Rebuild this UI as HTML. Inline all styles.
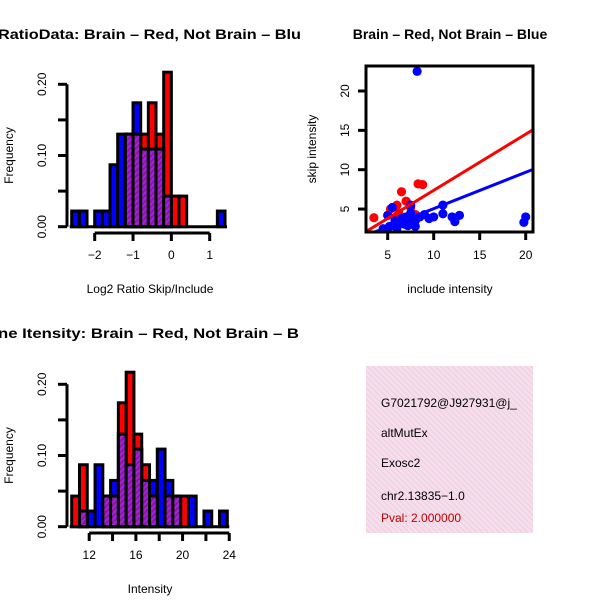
<!DOCTYPE html>
<html><head><meta charset="utf-8"><style>
html,body{margin:0;padding:0;background:#fff;}
svg{display:block;font-family:"Liberation Sans",sans-serif;}
</style></head><body>
<svg id="fig" width="600" height="600" viewBox="0 0 600 600">
<defs>
<pattern id="hatch" width="4" height="4" patternUnits="userSpaceOnUse" patternTransform="rotate(45)">
<rect width="4" height="4" fill="#a020f0"/><rect width="2" height="4" fill="#8b1a8b"/>
</pattern>
<pattern id="pinkhatch" width="4" height="4" patternUnits="userSpaceOnUse" patternTransform="rotate(-45)">
<rect width="4" height="4" fill="#fadcf0"/><rect width="1.2" height="4" fill="#e6d6d8"/>
</pattern>
<clipPath id="clipL"><rect x="0" y="0" width="300" height="600"/></clipPath>
<clipPath id="clipBox"><rect x="366" y="366" width="167" height="167"/></clipPath>
</defs>
<g id="tl"></g>
<g id="bl"></g>
<g id="tr"></g>
<g id="br">
<rect x="366" y="366" width="167" height="167" fill="url(#pinkhatch)"/>
<g clip-path="url(#clipBox)" font-size="12">
<text x="381" y="407">G7021792@J927931@j_</text>
<text x="381" y="437">altMutEx</text>
<text x="381" y="467">Exosc2</text>
<text x="381" y="500">chr2.13835−1.0</text>
<text x="381" y="522" fill="#c00000">Pval: 2.000000</text>
</g>
</g>
</svg>
<script>
const NS="http://www.w3.org/2000/svg";
// ---- data: ratio histogram ----
const ratioBinStart=-2.6, ratioBinWidth=0.2;
const ratioRed=[0,0,0,0,0,0,0,0.130,0.130,0.130,0.174,0.130,0.217,0.043,0.043,0,0,0,0,0];
const ratioBlue=[0.022,0.022,0,0.022,0.022,0.087,0.130,0.130,0.174,0.109,0.109,0.109,0.043,0,0,0,0,0,0,0.022];
const ratioXTicks=[-2,-1,0,1];
const freqTicks=[0,0.1,0.2];
const freqTickLabels=["0.00","0.10","0.20"];
// ---- data: intensity histogram ----
const intBinStart=10.5, intBinWidth=0.6667;
const intRed=[0.043,0.087,0,0,0.043,0.043,0.174,0.217,0.130,0.087,0.043,0,0.043,0.043,0.043,0,0,0,0,0];
const intBlue=[0,0.022,0.022,0.087,0.043,0.065,0.130,0.087,0.109,0.065,0.065,0.109,0.065,0.043,0,0.043,0,0.022,0,0.022];
const intXTicks=[12,14,16,18,20,22,24];
const intXLabels=["12","","16","","20","","24"];
// ---- data: scatter ----
const redX=[3.5,5.3,6.0,6.5,7.0,8.3,8.8,7.5,8.0,6.2,5.0,5.8];
const redY=[3.9,5.0,5.5,7.2,6.0,8.2,8.1,5.2,4.3,4.5,4.2,3.6];
const blueX=[8.2,5.0,5.5,7.5,6.5,7.0,7.5,8.0,6.0,5.2,6.0,8.5,9.0,10.0,11.0,11.0,12.0,12.3,12.8,19.8,20.0,4.5,7.0,6.5,8.0,9.5,7.5,5.8,7.2,6.8];
const blueY=[22.5,4.2,5.2,5.5,3.3,3.0,3.6,3.5,3.2,2.8,2.6,4.0,4.3,4.0,5.5,4.4,4.0,3.4,4.2,3.3,4.0,2.5,4.0,3.8,2.8,3.8,4.5,3.5,2.9,3.1];
const redFit=[0.25,0.713];
const blueFit=[0.43,0.462];
const scXTicks=[5,10,15,20];
const scYTicks=[5,10,15,20];

function el(tag,attrs,parent){const e=document.createElementNS(NS,tag);for(const k in attrs)e.setAttribute(k,attrs[k]);parent.appendChild(e);return e;}

function hist(g,opt){
  const {x0px,pxPerUnit,y0px,pxPerFreq,binStart,binW,red,blue,xt,xl,xlabel,title,titleX,titleLen,axY,yAxisX}=opt;
  const X=v=>x0px+(v-binStart)*pxPerUnit;
  const Y=f=>y0px-f*pxPerFreq;
  for(let i=0;i<red.length;i++){
    const a=binStart+i*binW,b=a+binW,bl=blue[i];
    if(bl>0){const e=el('rect',{x:X(a),y:Y(bl),width:X(b)-X(a),height:Y(0)-Y(bl),fill:'#0000ff',stroke:'#000','stroke-width':3},g);
      
      }
  }
  for(let i=0;i<red.length;i++){
    const a=binStart+i*binW,b=a+binW,r=red[i];
    if(r>0){const e=el('rect',{x:X(a),y:Y(r),width:X(b)-X(a),height:Y(0)-Y(r),fill:'#ff0000',stroke:'#000','stroke-width':3},g);
      
      }
  }
  for(let i=0;i<red.length;i++){
    const a=binStart+i*binW,b=a+binW,m=Math.min(red[i],blue[i]);
    if(m>0){const e=el('rect',{x:X(a),y:Y(m),width:X(b)-X(a),height:Y(0)-Y(m),fill:'url(#hatch)',stroke:'#000','stroke-width':3},g);
      
      }
  }
  const firstE=binStart, lastE=binStart+red.length*binW;
  el('line',{x1:X(firstE)-2,x2:X(lastE)+2,y1:Y(0),y2:Y(0),stroke:'#000','stroke-width':3},g);
  const ya=el('g',{},g);
  
  
  el('line',{x1:yAxisX,x2:yAxisX,y1:Y(0),y2:Y(0.2),stroke:'#000','stroke-width':3},ya);
  for(let f=0;f<=0.2001;f+=0.05) el('line',{x1:yAxisX-9,x2:yAxisX,y1:Y(f),y2:Y(f),stroke:'#000','stroke-width':3},ya);
  freqTicks.forEach((f,i)=>{const t=el('text',{x:0,y:0,transform:`translate(${yAxisX-21},${Y(f)}) rotate(-90)`,'text-anchor':'middle','font-size':12},ya);t.textContent=freqTickLabels[i];});
  const yt=el('text',{transform:`translate(13,${(Y(0)+Y(0.2))/2}) rotate(-90)`,'text-anchor':'middle','font-size':12},g);
  yt.textContent='Frequency';
  
  
  const xa=el('g',{},g);
  
  
  el('line',{x1:X(xt[0]),x2:X(xt[xt.length-1]),y1:axY,y2:axY,stroke:'#000','stroke-width':3},xa);
  xt.forEach((v,i)=>{el('line',{x1:X(v),x2:X(v),y1:axY,y2:axY+8,stroke:'#000','stroke-width':3},xa);
    if(xl[i]!==''){const t=el('text',{x:X(v),y:axY+26,'text-anchor':'middle','font-size':12},xa);t.textContent=xl[i];}});
  const xtt=el('text',{x:150,y:axY+60,'text-anchor':'middle','font-size':12},g);
  xtt.textContent=xlabel;
  
  
  const tt=el('text',{x:titleX,y:opt.titleY,'font-size':14,'font-weight':'bold',textLength:titleLen,lengthAdjust:'spacingAndGlyphs','clip-path':'url(#clipL)'},g);
  tt.textContent=title;
  
  
}
hist(document.getElementById('tl'),{x0px:71.7,pxPerUnit:38.33,y0px:226.7,pxPerFreq:712,binStart:ratioBinStart,binW:ratioBinWidth,red:ratioRed,blue:ratioBlue,xt:ratioXTicks,xl:ratioXTicks.map(v=>v<0?'−'+(-v):String(v)),xlabel:'Log2 Ratio Skip/Include',title:'RatioData: Brain – Red, Not Brain – Blu',titleX:-2,titleLen:303,titleY:39,axY:233,yAxisX:67});
hist(document.getElementById('bl'),{x0px:71.7,pxPerUnit:11.67,y0px:526.7,pxPerFreq:712,binStart:intBinStart,binW:intBinWidth,red:intRed,blue:intBlue,xt:intXTicks,xl:intXLabels,xlabel:'Intensity',title:'ne Itensity: Brain – Red, Not Brain – B',titleX:-2,titleLen:301,titleY:338,axY:533,yAxisX:67});

(function(){
  const g=document.getElementById('tr');
  const X=v=>341.7+v*9.2, Y=v=>248.4-v*7.87;
  const cp=el('clipPath',{id:'scClip'},g);el('rect',{x:366,y:66,width:167,height:166},cp);
  const pc=el('g',{'clip-path':'url(#scClip)'},g);
  const xmin=2.6,xmax=20.7;
  redX.forEach((v,i)=>{const c=el('circle',{cx:X(v),cy:Y(redY[i]),r:4.6,fill:'#ff0000'},pc);
    
    });
  blueX.forEach((v,i)=>{const c=el('circle',{cx:X(v),cy:Y(blueY[i]),r:4.6,fill:'#0000ff'},pc);
    
    });
  const rl=el('line',{x1:X(xmin),y1:Y(redFit[0]+redFit[1]*xmin),x2:X(xmax),y2:Y(redFit[0]+redFit[1]*xmax),stroke:'#ff0000','stroke-width':3},pc);
  
  
  const bl=el('line',{x1:X(xmin),y1:Y(blueFit[0]+blueFit[1]*xmin),x2:X(xmax),y2:Y(blueFit[0]+blueFit[1]*xmax),stroke:'#0000ff','stroke-width':3},pc);
  
  
  el('rect',{x:366,y:66,width:167,height:166,fill:'none',stroke:'#000','stroke-width':3},g);
  const xa=el('g',{},g);
  
  
  scXTicks.forEach(v=>{el('line',{x1:X(v),x2:X(v),y1:232,y2:240,stroke:'#000','stroke-width':3},xa);
    const t=el('text',{x:X(v),y:259,'text-anchor':'middle','font-size':12},xa);t.textContent=v;});
  const ya=el('g',{},g);
  
  
  scYTicks.forEach(v=>{el('line',{x1:358,x2:366,y1:Y(v),y2:Y(v),stroke:'#000','stroke-width':3},ya);
    const t=el('text',{transform:`translate(349,${Y(v)}) rotate(-90)`,'text-anchor':'middle','font-size':12},ya);t.textContent=v;});
  const xt=el('text',{x:450,y:297,'text-anchor':'middle','font-size':12},g);xt.textContent='include intensity';
  xt.setAttribute('y',293);
  
  
  const yt=el('text',{transform:'translate(316,149) rotate(-90)','text-anchor':'middle','font-size':12},g);yt.textContent='skip intensity';
  
  
  const tt=el('text',{x:450,y:39,'text-anchor':'middle','font-size':14,'font-weight':'bold'},g);tt.textContent='Brain – Red, Not Brain – Blue';
  
  
})();
</script>
</body></html>
